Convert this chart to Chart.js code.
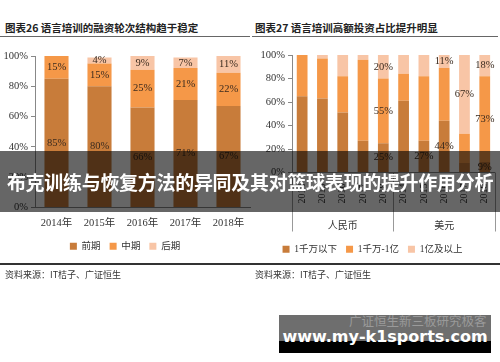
<!DOCTYPE html>
<html>
<head>
<meta charset="utf-8">
<script src="https://cdn.jsdelivr.net/npm/chart.js@4.4.1/dist/chart.umd.min.js"></script>
<style>
  body { margin: 0; width: 500px; height: 362px; background: #fff; position: relative; overflow: hidden; font-family: "Noto Sans CJK SC", sans-serif; }
  .abs { position: absolute; }
  .title { font-size: 10.5px; font-weight: bold; color: #222; top: 20px; white-space: nowrap; }
  .src { font-size: 9px; color: #333; top: 268px; white-space: nowrap; }
</style>
</head>
<body>
<div class="abs title" style="left:5px">图表26 语言培训的融资轮次结构趋于稳定</div>
<div class="abs title" style="left:255px">图表27 语言培训高额投资占比提升明显</div>
<div class="abs" style="left:0;top:36px;width:250px;height:1px;background:#666"></div>
<div class="abs" style="left:252px;top:36px;width:246px;height:1px;background:#666"></div>

<div class="abs" style="left:0;top:45px;width:255px;height:216px"><canvas id="left"></canvas></div>
<div class="abs" style="left:250px;top:45px;width:250px;height:219px"><canvas id="right"></canvas></div>

<div class="abs" style="left:0;top:263px;width:500px;height:2px;background:#333"></div>
<div class="abs src" style="left:5px">资料来源：IT桔子、广证恒生</div>
<div class="abs src" style="left:255px">资料来源：IT桔子、广证恒生</div>

<div class="abs" style="left:0;top:151px;width:500px;height:61px;background:rgba(0,0,0,0.6);color:#fff;font-weight:bold;font-size:19px;line-height:61px;text-align:center;white-space:nowrap;letter-spacing:-0.3px">布克训练与恢复方法的异同及其对篮球表现的提升作用分析</div>

<div class="abs" style="left:279px;top:315px;width:212px;height:26px;background:#6e6e6e;overflow:hidden">
  <div class="abs" style="left:70px;top:-4px;font-size:12.5px;color:#9a9a9a;white-space:nowrap">广证恒生新三板研究极客</div>
</div>
<div class="abs" style="left:279px;top:341px;width:212px;height:12px;background:#000"></div>
<div class="abs" style="left:279px;top:325px;width:212px;text-align:center;color:#fff;font-family:'DejaVu Sans',sans-serif;font-weight:bold;font-size:16px;line-height:24px;white-space:nowrap">www.my-k1sports.com</div>

<script>
const years = ['2014年', '2015年', '2016年', '2017年', '2018年'];
const early = [85, 80, 66, 71, 67];
const middle = [15, 15, 25, 21, 22];
const late = [0, 4, 9, 7, 11];

const rYears = ['2014', '2015', '2016', '2017', '2018', '2014', '2015', '2016', '2017', '2018'];
const currencies = ['人民币', '美元'];
const under10m = [65, 63, 51, 27, 25, 61, 27, 44, 8, 9];
const mid10m = [35, 34, 31, 69, 55, 23, 55, 45, 25, 73];
const over100m = [0, 3, 18, 4, 20, 16, 18, 11, 67, 18];
const under10mShown = [0, 0, 0, 0, 1, 0, 1, 1, 0, 1];
const mid10mShown = [0, 0, 0, 0, 1, 0, 0, 0, 0, 1];
const over100mShown = [0, 0, 0, 0, 1, 0, 0, 1, 1, 1];

const dark = 'rgb(200,124,58)';
const orange = 'rgb(245,152,72)';
const light = 'rgb(248,197,166)';
const serif = '"Liberation Serif", "Noto Sans CJK SC", serif';

const valueLabels = {
  id: 'valueLabels',
  afterDatasetsDraw(chart) {
    const ctx = chart.ctx;
    ctx.save();
    ctx.font = '10.5px ' + serif;
    ctx.fillStyle = '#3a2a1e';
    ctx.textAlign = 'center';
    ctx.textBaseline = 'middle';
    chart.data.datasets.forEach((ds, i) => {
      chart.getDatasetMeta(i).data.forEach((bar, j) => {
        const v = ds.data[j];
        if (!v || (ds.shown && !ds.shown[j])) return;
        ctx.fillText(v + '%', bar.x, (bar.y + bar.base) / 2);
      });
    });
    ctx.restore();
  }
};

// vertical separators between the currency groups
const groupLines = {
  id: 'groupLines',
  afterDraw(chart) {
    const x = chart.scales.x, x2 = chart.scales.x2;
    if (!x2) return;
    const ctx = chart.ctx;
    const mid = (x.getPixelForValue(4) + x.getPixelForValue(5)) / 2;
    ctx.save();
    ctx.strokeStyle = '#999';
    ctx.lineWidth = 1;
    [chart.chartArea.left, mid, chart.chartArea.right].forEach(px => {
      ctx.beginPath();
      ctx.moveTo(Math.round(px) + 0.5, chart.chartArea.bottom);
      ctx.lineTo(Math.round(px) + 0.5, x2.bottom - 4);
      ctx.stroke();
    });
    ctx.restore();
  }
};

function yAxis(width) {
  return {
    stacked: true, min: 0, max: 100,
    ticks: { stepSize: 20, callback: v => v + '%', color: '#333', font: { family: serif, size: 10.5 }, padding: 3 },
    grid: { drawOnChartArea: false, tickLength: 4, color: '#888' },
    border: { color: '#888' },
    afterFit: s => { s.width = width; }
  };
}

const legendOpts = {
  position: 'bottom',
  labels: { boxWidth: 7, boxHeight: 7, padding: 9, color: '#333', font: { family: serif, size: 9.5 } }
};

new Chart(document.getElementById('left'), {
  type: 'bar',
  data: {
    labels: years,
    datasets: [
      { label: '前期', data: early, backgroundColor: dark },
      { label: '中期', data: middle, backgroundColor: orange },
      { label: '后期', data: late, backgroundColor: light }
    ]
  },
  options: {
    responsive: true,
    maintainAspectRatio: false,
    animation: false,
    datasets: { bar: { barPercentage: 0.56, categoryPercentage: 1, borderWidth: 0 } },
    layout: { padding: { top: 11, right: 5, left: 0, bottom: 0 } },
    plugins: { legend: legendOpts, tooltip: { enabled: false } },
    scales: {
      x: {
        stacked: true,
        grid: { display: false },
        border: { color: '#888' },
        ticks: { color: '#333', font: { family: serif, size: 10.5 }, padding: 1 },
        afterFit: s => { s.height = 25; }
      },
      y: yAxis(35)
    }
  },
  plugins: [valueLabels]
});

new Chart(document.getElementById('right'), {
  type: 'bar',
  data: {
    labels: rYears,
    datasets: [
      { label: '1千万以下', data: under10m, shown: under10mShown, backgroundColor: dark },
      { label: '1千万-1亿', data: mid10m, shown: mid10mShown, backgroundColor: orange },
      { label: '1亿及以上', data: over100m, shown: over100mShown, backgroundColor: light }
    ]
  },
  options: {
    responsive: true,
    maintainAspectRatio: false,
    animation: false,
    datasets: { bar: { barPercentage: 0.53, categoryPercentage: 1, borderWidth: 0 } },
    layout: { padding: { top: 10, right: 5, left: 0, bottom: 0 } },
    plugins: { legend: legendOpts, tooltip: { enabled: false } },
    scales: {
      x: {
        stacked: true,
        grid: { display: false },
        border: { color: '#888' },
        ticks: { color: '#333', font: { family: serif, size: 10 }, minRotation: 90, maxRotation: 90, autoSkip: false },
        afterFit: s => { s.height = 37; }
      },
      x2: {
        type: 'category',
        labels: currencies,
        min: 0, max: 1,
        offset: true,
        position: 'bottom',
        grid: { display: false },
        border: { display: false },
        ticks: { color: '#333', font: { family: serif, size: 10 } },
        afterFit: s => { s.height = 26; }
      },
      y: yAxis(42)
    }
  },
  plugins: [valueLabels, groupLines]
});
</script>
</body>
</html>
